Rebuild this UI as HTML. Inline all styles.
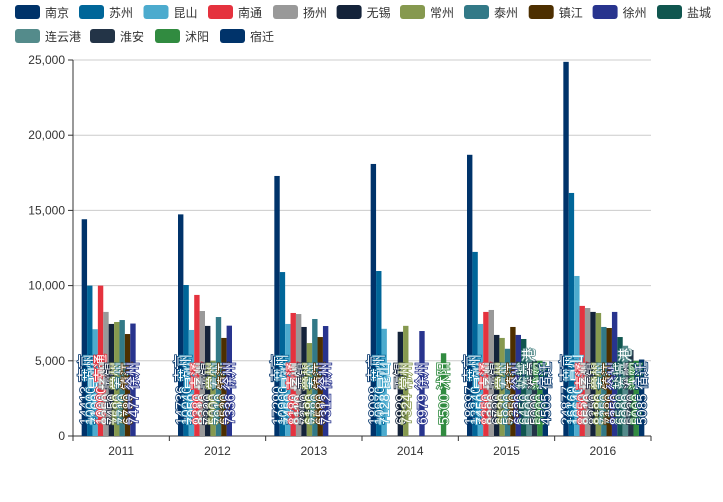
<!DOCTYPE html>
<html><head><meta charset="utf-8"><style>
body{margin:0;background:#fff;font-family:"Liberation Sans","Noto Sans CJK SC",sans-serif;}
svg text{font-family:"Liberation Sans","Noto Sans CJK SC",sans-serif;}
</style></head><body>
<svg id="chart" width="723" height="497" xmlns="http://www.w3.org/2000/svg"></svg>
<script>
const categories = ['2011','2012','2013','2014','2015','2016'];
const seriesNames = ['南京','苏州','昆山','南通','扬州','无锡','常州','泰州','镇江','徐州','盐城','连云港','淮安','沭阳','宿迁'];
const seriesColors = ['#00336a','#006699','#4cabce','#e5323e','#999999','#14233a','#86994f','#327987','#4d2f00','#28348e','#10564f','#548b8b','#233447','#318b40','#00336a'];
const v_nanjing   = [14413,14736,17290,18088,18697,24877];
const v_suzhou    = [10000,10040,10900,10970,12240,16160];
const v_kunshan   = [7100,7050,7450,7128,7450,10640];
const v_nantong   = [10000,9380,8180,null,8250,8650];
const v_yangzhou  = [8250,8310,8110,null,8380,8510];
const v_wuxi      = [7450,7320,7250,6929,6720,8250];
const v_changzhou = [7580,5000,6180,7324,6520,8180];
const v_taizhou   = [7710,7910,7780,null,5800,7250];
const v_zhenjiang = [6780,6520,6580,null,7250,7180];
const v_xuzhou    = [7477,7336,7312,6979,6720,8250];
const v_yancheng  = [null,null,null,null,6450,6580];
const v_lianyungang=[null,null,null,null,5500,6000];
const v_huaian    = [null,null,null,null,5000,5720];
const v_shuyang   = [null,null,null,5500,5000,5000];
const v_suqian    = [null,null,null,null,4505,5085];
const seriesValues = [v_nanjing,v_suzhou,v_kunshan,v_nantong,v_yangzhou,v_wuxi,v_changzhou,v_taizhou,v_zhenjiang,v_xuzhou,v_yancheng,v_lianyungang,v_huaian,v_shuyang,v_suqian];
const yTicks = [0,5000,10000,15000,20000,25000];
const yTickLabels = ['0','5,000','10,000','15,000','20,000','25,000'];

const NS='http://www.w3.org/2000/svg';
const svg=document.getElementById('chart');
const L=73,R=651,T=60,B=436,yMax=25000;
const bandW=(R-L)/categories.length;
const yS=v=>B-(v/yMax)*(B-T);
function mk(tag,attrs,parent){const e=document.createElementNS(NS,tag);for(const k in attrs)e.setAttribute(k,attrs[k]);(parent||svg).appendChild(e);return e;}

const legendX=[15,79,143.5,208,273,336.6,400,464,528.7,592.6,657,15,90,155,220];
seriesNames.forEach((n,i)=>{
  const row=i<11?0:1;
  const g=mk('g',{});
  
  
  const y=row?29:5;
  mk('rect',{x:legendX[i],y:y,width:25,height:14,rx:3,fill:seriesColors[i]},g);
  const t=mk('text',{x:legendX[i]+30,y:y+12,'font-size':12,fill:'#333'},g);
  t.textContent=n;
});

yTicks.forEach((v,i)=>{
  const y=yS(v);
  if(v>0){const gl=mk('line',{x1:L,x2:R,y1:y,y2:y,stroke:'#ccc','stroke-width':1});
  }
  mk('line',{x1:L-5,x2:L,y1:y,y2:y,stroke:'#333'});
  const t=mk('text',{x:L-8,y:y+4,'font-size':12,fill:'#333','text-anchor':'end'});
  
  t.textContent=yTickLabels[i];
});
mk('line',{x1:L,x2:L,y1:T,y2:B,stroke:'#333'});
const xa=mk('line',{x1:L,x2:R,y1:B,y2:B,stroke:'#333'});


const nS=seriesNames.length, barW=5.4, groupPad=(bandW-nS*barW)/2+1;
categories.forEach((c,ci)=>{
  const x0=L+ci*bandW;
  mk('line',{x1:x0,x2:x0,y1:B,y2:B+5,stroke:'#333'});
  const t=mk('text',{x:x0+bandW/2,y:B+19,'font-size':12,fill:'#333','text-anchor':'middle'});
  
  t.textContent=c;
  seriesValues.forEach((vals,si)=>{
    const v=vals[ci]; if(v==null) return;
    const bx=x0+groupPad+si*barW, by=yS(v);
    const r=mk('rect',{x:bx,y:by,width:barW,height:B-by,fill:seriesColors[si]});
    
    
  });
});
mk('line',{x1:R,x2:R,y1:B,y2:B+5,stroke:'#333'});
categories.forEach((c,ci)=>{
  const x0=L+ci*bandW;
  seriesValues.forEach((vals,si)=>{
    const v=vals[ci]; if(v==null) return;
    const cx=x0+groupPad+si*barW+barW/2+5, cy=B-11;
    const t=mk('text',{x:cx,y:cy,'font-size':14,fill:'#fff',stroke:seriesColors[si],'stroke-width':1.6,'paint-order':'stroke',transform:`rotate(-90 ${cx} ${cy})`});
    
    t.textContent=v+' '+seriesNames[si];
  });
});
</script>
</body></html>
